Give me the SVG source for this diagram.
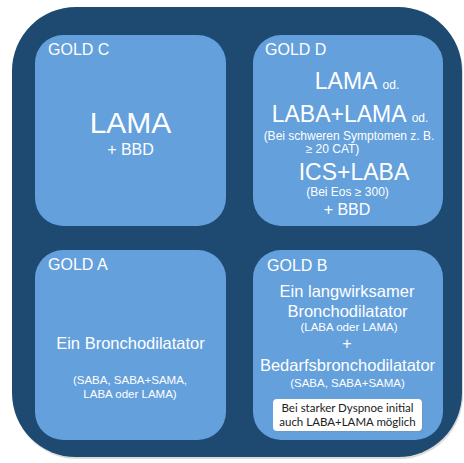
<svg xmlns="http://www.w3.org/2000/svg" width="464" height="463" viewBox="0 0 464 463">
<defs>
<style>
.box{fill:#64a0dc}
.t{fill:#ffffff;font-family:"Liberation Sans",Arial,sans-serif;text-anchor:middle}
.lbl{fill:#ffffff;font-family:"Liberation Sans",Arial,sans-serif;font-size:16px}
.note{fill:#222222;font-family:Lato,"Open Sans",sans-serif;font-size:11.5px;text-anchor:middle}
</style>
</defs>
<rect width="464" height="463" fill="#ffffff"/>
<rect x="13" y="9" width="450" height="450" rx="64" fill="#b8b8b8" opacity="0.5"/>
<rect x="12" y="7" width="450" height="450" rx="64" fill="#1e4970"/>
<g id="gold-c">
<rect class="box" x="35" y="35" width="191" height="191" rx="28"/>
<text class="lbl" x="48" y="55">GOLD C</text>
<text class="t" x="130.5" y="133" font-size="30">LAMA</text>
<text class="t" x="130.5" y="155" font-size="16">+ BBD</text>
</g>
<g id="gold-d">
<rect class="box" x="253" y="35" width="190" height="191" rx="28"/>
<text class="lbl" x="265" y="55">GOLD D</text>
<text class="t" x="357" y="89" font-size="23">LAMA <tspan font-size="12">od.</tspan></text>
<text class="t" x="350" y="122" font-size="23">LABA+LAMA <tspan font-size="12">od.</tspan></text>
<text class="t" x="349" y="140" font-size="12">(Bei schweren Symptomen z. B.</text>
<text class="t" x="332.5" y="153" font-size="12">≥ 20 CAT)</text>
<text class="t" x="354" y="180" font-size="23">ICS+LABA</text>
<text class="t" x="347.5" y="196" font-size="12">(Bei Eos ≥ 300)</text>
<text class="t" x="347" y="215" font-size="16">+ BBD</text>
</g>
<g id="gold-a">
<rect class="box" x="35" y="250" width="191" height="190" rx="28"/>
<text class="lbl" x="48" y="270">GOLD A</text>
<text class="t" x="130.5" y="349" font-size="16.5">Ein Bronchodilatator</text>
<text class="t" x="130" y="384" font-size="11.5">(SABA, SABA+SAMA,</text>
<text class="t" x="130" y="398" font-size="11.5">LABA oder LAMA)</text>
</g>
<g id="gold-b">
<rect class="box" x="253" y="250" width="190" height="190" rx="28"/>
<text class="lbl" x="267" y="271">GOLD B</text>
<text class="t" x="347" y="297" font-size="16.5">Ein langwirksamer</text>
<text class="t" x="347.5" y="317" font-size="16.5">Bronchodilatator</text>
<text class="t" x="349" y="331" font-size="11.5">(LABA oder LAMA)</text>
<text class="t" x="347" y="349" font-size="16">+</text>
<text class="t" x="347.5" y="371" font-size="16.5">Bedarfsbronchodilatator</text>
<text class="t" x="347.5" y="387" font-size="11.5">(SABA, SABA+SAMA)</text>
<rect x="274" y="400" width="149" height="32" rx="4" fill="#7a8fa6" opacity="0.5"/>
<rect x="273" y="399" width="149" height="32" rx="4" fill="#ffffff"/>
<text class="note" x="347.5" y="412">Bei starker Dyspnoe initial</text>
<text class="note" x="347.5" y="426">auch LABA+LAMA möglich</text>
</g>
<g id="connectors"/>
</svg>
